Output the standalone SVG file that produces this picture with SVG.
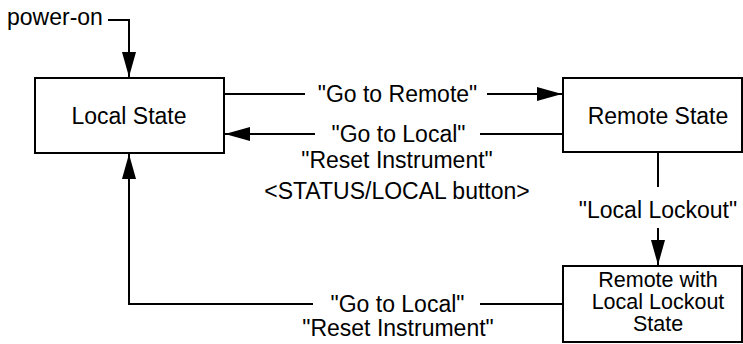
<svg xmlns="http://www.w3.org/2000/svg" width="743" height="344" viewBox="0 0 743 344">
<defs>
<style>
text{font-family:"Liberation Sans",Arial,Helvetica,sans-serif;font-size:23px;fill:#000}
.c{text-anchor:middle}
.s{font-size:21.5px}
.box{fill:#fff;stroke:#000;stroke-width:2}
.ln{fill:none;stroke:#000;stroke-width:2}
</style>
<marker id="ah" markerUnits="userSpaceOnUse" markerWidth="25" markerHeight="14" refX="25" refY="7" orient="auto" viewBox="0 0 25 14">
<path d="M0,0 L25,7 L0,14 z" fill="#000"/>
</marker>
</defs>
<rect width="743" height="344" fill="#fff"/>
<g id="connectors">
<polyline class="ln" points="108,20 129,20 129,77" marker-end="url(#ah)"/>
<line class="ln" x1="224" y1="94" x2="305" y2="94"/>
<line class="ln" x1="487" y1="94" x2="562" y2="94" marker-end="url(#ah)"/>
<line class="ln" x1="563" y1="134" x2="480" y2="134"/>
<line class="ln" x1="315" y1="134" x2="225" y2="134" marker-end="url(#ah)"/>
<line class="ln" x1="658" y1="152" x2="658" y2="187"/>
<line class="ln" x1="658" y1="228" x2="658" y2="265" marker-end="url(#ah)"/>
<line class="ln" x1="563" y1="304" x2="480" y2="304"/>
<polyline class="ln" points="313,304 129,304 129,154" marker-end="url(#ah)"/>
<text x="7" y="25">power-on</text>
<text class="c" x="397.5" y="102">"Go to Remote"</text>
<text class="c" x="398.5" y="142">"Go to Local"</text>
<text class="c" x="397" y="168">"Reset Instrument"</text>
<text class="c" x="397" y="199">&lt;STATUS/LOCAL button&gt;</text>
<text class="c" x="658" y="218">"Local Lockout"</text>
<text class="c" x="397.5" y="312">"Go to Local"</text>
<text class="c" x="398" y="336">"Reset Instrument"</text>
</g>
<g id="local">
<rect class="box" x="35" y="78" width="189" height="75"/>
<text class="c" x="129" y="124">Local State</text>
</g>
<g id="remote">
<rect class="box" x="563" y="78" width="179" height="74"/>
<text class="c" x="658" y="124">Remote State</text>
</g>
<g id="lockout">
<rect class="box" x="563" y="266" width="179" height="76"/>
<text class="c s" x="658" y="287">Remote with</text>
<text class="c s" x="658" y="309">Local Lockout</text>
<text class="c s" x="658" y="331">State</text>
</g>
</svg>
